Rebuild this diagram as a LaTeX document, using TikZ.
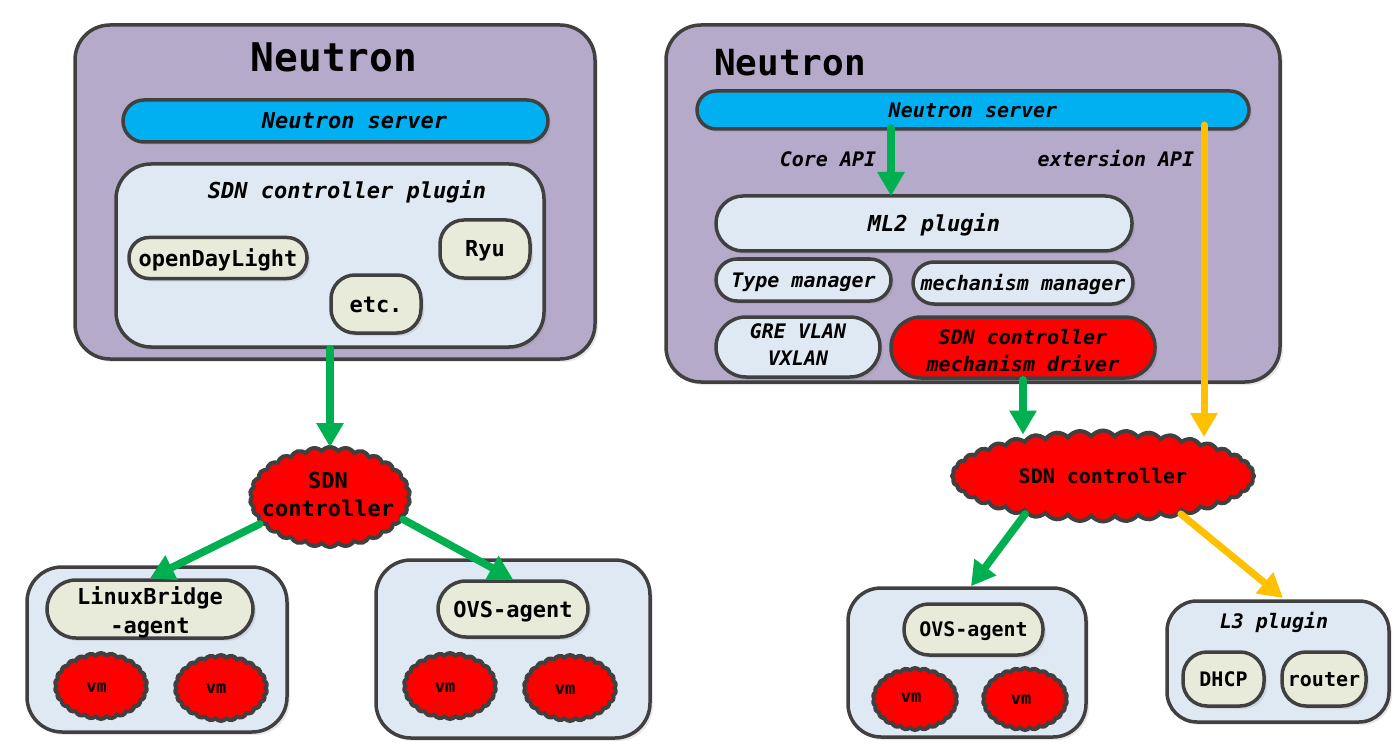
\documentclass[tikz,border=0pt]{standalone}
\usepackage{fontspec}
\setmonofont{DejaVu Sans Mono}
\usepackage{tikz}
\usetikzlibrary{shapes,shadows,arrows.meta}
\definecolor{outerpurple}{HTML}{B6AACA}
\definecolor{serverblue}{HTML}{00B0F0}
\definecolor{paleblue}{HTML}{DFE9F3}
\definecolor{paleolive}{HTML}{E8EADA}
\definecolor{edgegray}{HTML}{404040}
\definecolor{arrowgreen}{HTML}{00B050}
\definecolor{arrowyellow}{HTML}{FFC000}
\tikzset{
box/.style={draw=edgegray,line width=3.5pt,rectangle,inner sep=0pt,align=center,drop shadow={opacity=.18,shadow xshift=3pt,shadow yshift=-3pt}},
greenline/.style={draw=arrowgreen,line width=7.5pt,line cap=round,-{Triangle[length=24pt,width=26pt]}},
yellowline/.style={draw=arrowyellow,line width=7pt,line cap=round,-{Triangle[length=24pt,width=26pt]}},
bump/.style={draw=edgegray,line width=4pt,fill=red,cloud,cloud puffs=#1,cloud puff arc=105,inner sep=0pt,cloud ignores aspect},
big/.style={text height=19pt,text depth=3pt,inner sep=0pt,font=\ttfamily\bfseries\fontsize{22}{28}\selectfont},
small/.style={text height=17.3pt,text depth=2.7pt,inner sep=0pt,font=\ttfamily\bfseries\fontsize{20}{26}\selectfont},
bigit/.style={text height=19pt,text depth=3pt,inner sep=0pt,font=\ttfamily\bfseries\itshape\fontsize{22}{28}\selectfont},
smallit/.style={text height=17.3pt,text depth=2.7pt,inner sep=0pt,font=\ttfamily\bfseries\itshape\fontsize{20}{26}\selectfont},
twobig/.style={align=center,inner sep=0pt,font=\ttfamily\bfseries\fontsize{22}{28.5}\selectfont},
twoit/.style={align=center,inner sep=0pt,font=\ttfamily\bfseries\itshape\fontsize{20}{26.5}\selectfont},
vmtext/.style={text height=12pt,text depth=2.6pt,inner sep=0pt,font=\ttfamily\bfseries\fontsize{17}{20}\selectfont}
}
\begin{document}
\begin{tikzpicture}[x=1pt,y=-1pt]
\useasboundingbox (0,0) rectangle (1395,746);
\node[box,fill=outerpurple,minimum width=520pt,minimum height=334pt,rounded corners=35pt] (neutronL) at (335,192) {};
\node[font=\ttfamily\bfseries\fontsize{39.5}{44}\selectfont] (titleL) at (334,57) {Neutron};
\node[box,fill=serverblue,minimum width=425pt,minimum height=42pt,rounded corners=21pt] (serverL) at (335.5,121) {};
\node[bigit] (servernameL) at (354.5,120.5) {Neutron server};
\node[box,fill=paleblue,minimum width=428pt,minimum height=183pt,rounded corners=35pt] (pluginL) at (330,255.5) {};
\node[bigit] (pluginnameL) at (347,191) {SDN controller plugin};
\node[box,fill=paleolive,minimum width=178pt,minimum height=41pt,rounded corners=20pt,big] (odl) at (218,258) {openDayLight};
\node[box,fill=paleolive,minimum width=90pt,minimum height=58pt,rounded corners=24pt,big] (ryu) at (485,249) {Ryu};
\node[box,fill=paleolive,minimum width=90pt,minimum height=58pt,rounded corners=24pt,big] (etc) at (376,304) {etc.};
\node[bump=30,minimum width=160pt,minimum height=100pt] (ctlL) at (330,497) {};
\node[twobig] (ctlnameL) at (328,494.5) {SDN\\controller};
\node[box,fill=paleblue,minimum width=260pt,minimum height=165pt,rounded corners=35pt] (hostA) at (157,649.5) {};
\node[box,fill=paleblue,minimum width=274pt,minimum height=178pt,rounded corners=35pt] (hostB) at (513,649) {};
\node[box,fill=paleolive,minimum width=206pt,minimum height=58pt,rounded corners=29pt] (lbagent) at (150,609) {};
\node[twobig] (lbname) at (150,612.5) {LinuxBridge\\-agent};
\node[box,fill=paleolive,minimum width=150pt,minimum height=56pt,rounded corners=28pt,big] (ovsL) at (513,609) {OVS-agent};
\node[bump=26,minimum width=92pt,minimum height=66pt] (vmA) at (101,686) {};
\node[vmtext] (vmnameA) at (96.5,687.5) {vm};
\node[bump=26,minimum width=92pt,minimum height=66pt] (vmB) at (221,688) {};
\node[vmtext] (vmnameB) at (216,689) {vm};
\node[bump=26,minimum width=92pt,minimum height=66pt] (vmC) at (450,686) {};
\node[vmtext] (vmnameC) at (445,688) {vm};
\node[bump=26,minimum width=92pt,minimum height=66pt] (vmD) at (570,688) {};
\node[vmtext] (vmnameD) at (565,690) {vm};
\draw[greenline] (pluginL.south) -- ([yshift=-2pt]ctlL.north);
\draw[greenline] (ctlL.201) -- (lbagent.north);
\draw[greenline] (ctlL.-17) -- (ovsL.north);
\node[box,fill=outerpurple,minimum width=614pt,minimum height=357pt,rounded corners=35pt] (neutronR) at (973,203.5) {};
\node[font=\ttfamily\bfseries\fontsize{36}{42}\selectfont] (titleR) at (790,63) {Neutron};
\node[box,fill=serverblue,minimum width=552pt,minimum height=38pt,rounded corners=19pt,smallit] (serverR) at (973,110) {Neutron server};
\node[smallit] (coreapi) at (828,159) {Core API};
\node[smallit] (extapi) at (1116,159) {extersion API};
\node[box,fill=paleblue,minimum width=416pt,minimum height=55pt,rounded corners=27pt] (mltwo) at (924,223.5) {};
\node[bigit] (mltwoname) at (934,224) {ML2 plugin};
\node[box,fill=paleblue,minimum width=175pt,minimum height=42pt,rounded corners=21pt,smallit] (typemgr) at (803.5,280) {Type manager};
\node[box,fill=paleblue,minimum width=220pt,minimum height=42pt,rounded corners=21pt,smallit] (mechmgr) at (1023,283) {mechanism manager};
\node[box,fill=paleblue,minimum width=164pt,minimum height=60pt,rounded corners=30pt] (gre) at (798,347) {};
\node[twoit] (grename) at (798,344.5) {GRE VLAN\\VXLAN};
\node[box,fill=red,minimum width=264pt,minimum height=61pt,rounded corners=30pt] (driver) at (1023,347.5) {};
\node[twoit] (drivername) at (1023,350.5) {SDN controller\\mechanism driver};
\node[bump=40,minimum width=302pt,minimum height=91pt] (ctlR) at (1103,476) {};
\node[small] (ctlnameR) at (1103,476) {SDN controller};
\node[box,fill=paleblue,minimum width=238pt,minimum height=149pt,rounded corners=33pt] (hostC) at (967,662.5) {};
\node[box,fill=paleblue,minimum width=222pt,minimum height=121pt,rounded corners=30pt] (hostD) at (1278,661.5) {};
\node[smallit] (lthree) at (1274,621) {L3 plugin};
\node[box,fill=paleolive,minimum width=139pt,minimum height=51pt,rounded corners=25pt,small] (ovsR) at (973.5,629.5) {OVS-agent};
\node[bump=26,minimum width=84pt,minimum height=62pt] (vmE) at (915,699) {};
\node[vmtext] (vmnameE) at (911,698) {vm};
\node[bump=26,minimum width=84pt,minimum height=62pt] (vmF) at (1025,699) {};
\node[vmtext] (vmnameF) at (1021,700) {vm};
\node[box,fill=paleolive,minimum width=81pt,minimum height=54pt,rounded corners=24pt,small] (dhcp) at (1223.5,679) {DHCP};
\node[box,fill=paleolive,minimum width=84pt,minimum height=54pt,rounded corners=24pt,small] (router) at (1324,679) {router};
\coordinate (coretop) at (891,128);
\coordinate (coreend) at (891,196);
\coordinate (extop) at (1204,125);
\coordinate (exend) at (1204,437);
\draw[greenline] (coretop) -- (coreend);
\draw[yellowline] (extop) -- (exend);
\draw[greenline] (driver.south) -- ([yshift=-6pt]driver.south |- ctlR.north);
\draw[greenline] (ctlR.206) -- ([xshift=4pt]hostC.north);
\coordinate (routertop) at (1283,598);
\draw[yellowline] (ctlR.-26.6) -- (routertop);
\end{tikzpicture}
\end{document}
